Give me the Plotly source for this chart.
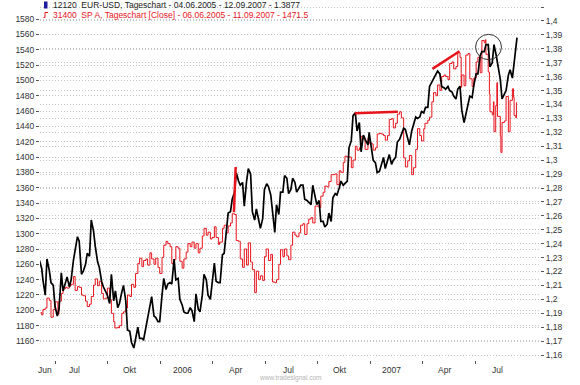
import plotly.graph_objects as go

# ---------------- data ----------------
eur_dates = [
    "2005-06-04","2005-06-08","2005-06-10","2005-06-14","2005-06-17","2005-06-21","2005-06-24","2005-06-28",
    "2005-07-01","2005-07-05","2005-07-08","2005-07-12","2005-07-15","2005-07-19","2005-07-22","2005-07-26","2005-07-29",
    "2005-08-02","2005-08-05","2005-08-09","2005-08-12","2005-08-16","2005-08-19","2005-08-23","2005-08-26","2005-08-30",
    "2005-09-02","2005-09-06","2005-09-09","2005-09-13","2005-09-16","2005-09-20","2005-09-23","2005-09-27","2005-09-30",
    "2005-10-04","2005-10-07","2005-10-11","2005-10-14","2005-10-18","2005-10-21","2005-10-25","2005-10-28",
    "2005-11-01","2005-11-04","2005-11-08","2005-11-11","2005-11-15","2005-11-18","2005-11-22","2005-11-25","2005-11-29",
    "2005-12-02","2005-12-06","2005-12-09","2005-12-13","2005-12-16","2005-12-20","2005-12-23","2005-12-27","2005-12-30",
    "2006-01-03","2006-01-06","2006-01-10","2006-01-13","2006-01-17","2006-01-20","2006-01-24","2006-01-27","2006-01-31",
    "2006-02-03","2006-02-07","2006-02-10","2006-02-14","2006-02-17","2006-02-21","2006-02-24","2006-02-28",
    "2006-03-03","2006-03-07","2006-03-10","2006-03-14","2006-03-17","2006-03-21","2006-03-24","2006-03-28","2006-03-31",
    "2006-04-04","2006-04-07","2006-04-11","2006-04-14","2006-04-18","2006-04-21","2006-04-25","2006-04-28",
    "2006-05-02","2006-05-05","2006-05-09","2006-05-12","2006-05-16","2006-05-19","2006-05-23","2006-05-26","2006-05-30",
    "2006-06-02","2006-06-06","2006-06-09","2006-06-13","2006-06-16","2006-06-20","2006-06-23","2006-06-27","2006-06-30",
    "2006-07-04","2006-07-07","2006-07-11","2006-07-14","2006-07-18","2006-07-21","2006-07-25","2006-07-28",
    "2006-08-01","2006-08-04","2006-08-08","2006-08-11","2006-08-15","2006-08-18","2006-08-22","2006-08-25","2006-08-29",
    "2006-09-01","2006-09-05","2006-09-08","2006-09-12","2006-09-15","2006-09-19","2006-09-22","2006-09-26","2006-09-29",
    "2006-10-03","2006-10-06","2006-10-10","2006-10-13","2006-10-17","2006-10-20","2006-10-24","2006-10-27","2006-10-31",
    "2006-11-03","2006-11-07","2006-11-10","2006-11-14","2006-11-17","2006-11-21","2006-11-24","2006-11-28",
    "2006-12-01","2006-12-05","2006-12-08","2006-12-12","2006-12-15","2006-12-19","2006-12-22","2006-12-27","2006-12-29",
    "2007-01-03","2007-01-05","2007-01-09","2007-01-12","2007-01-16","2007-01-19","2007-01-23","2007-01-26","2007-01-30",
    "2007-02-02","2007-02-06","2007-02-09","2007-02-13","2007-02-16","2007-02-20","2007-02-23","2007-02-27",
    "2007-03-02","2007-03-06","2007-03-09","2007-03-13","2007-03-16","2007-03-20","2007-03-23","2007-03-27","2007-03-30",
    "2007-04-03","2007-04-06","2007-04-10","2007-04-13","2007-04-17","2007-04-20","2007-04-24","2007-04-27",
    "2007-05-01","2007-05-04","2007-05-08","2007-05-11","2007-05-15","2007-05-18","2007-05-22","2007-05-25","2007-05-29",
    "2007-06-01","2007-06-05","2007-06-08","2007-06-12","2007-06-15","2007-06-19","2007-06-22","2007-06-26","2007-06-29",
    "2007-07-03","2007-07-06","2007-07-10","2007-07-13","2007-07-17","2007-07-20","2007-07-24","2007-07-27","2007-07-31",
    "2007-08-03","2007-08-07","2007-08-10","2007-08-14","2007-08-17","2007-08-21","2007-08-24","2007-08-28","2007-08-31",
    "2007-09-04","2007-09-07","2007-09-10","2007-09-12",
]
eur_close = [
    1.228,1.222,1.214,1.203,1.229,1.221,1.212,1.210,
    1.195,1.188,1.193,1.219,1.206,1.211,1.216,1.209,1.214,
    1.228,1.236,1.245,1.242,1.218,1.220,1.225,1.233,1.231,
    1.257,1.249,1.238,1.227,1.223,1.213,1.209,1.206,1.203,
    1.197,1.218,1.199,1.206,1.194,1.197,1.205,1.210,
    1.199,1.178,1.177,1.169,1.165,1.172,1.180,1.172,1.172,
    1.171,1.180,1.187,1.197,1.202,1.188,1.187,1.184,1.184,
    1.203,1.215,1.207,1.211,1.212,1.211,1.229,1.214,1.215,
    1.200,1.196,1.191,1.190,1.190,1.194,1.192,1.184,
    1.204,1.193,1.191,1.203,1.218,1.214,1.203,1.200,1.212,
    1.226,1.213,1.212,1.212,1.232,1.233,1.247,1.262,
    1.263,1.272,1.277,1.291,1.285,1.282,1.284,1.267,1.285,
    1.294,1.290,1.263,1.257,1.265,1.257,1.251,1.258,1.279,
    1.283,1.281,1.275,1.264,1.248,1.268,1.261,1.277,
    1.277,1.289,1.287,1.276,1.279,1.287,1.284,1.277,1.280,
    1.282,1.282,1.272,1.271,1.270,1.268,1.282,1.274,1.268,
    1.271,1.256,1.256,1.252,1.254,1.262,1.256,1.273,1.276,
    1.275,1.280,1.285,1.282,1.283,1.285,1.309,1.314,
    1.332,1.334,1.321,1.327,1.306,1.318,1.315,1.311,1.320,
    1.307,1.300,1.298,1.291,1.292,1.296,1.302,1.294,1.299,
    1.304,1.297,1.300,1.302,1.313,1.315,1.319,1.323,
    1.322,1.316,1.311,1.321,1.326,1.331,1.330,1.331,1.335,
    1.334,1.338,1.338,1.353,1.356,1.358,1.362,1.364,
    1.362,1.353,1.352,1.351,1.353,1.350,1.349,1.346,1.344,
    1.351,1.353,1.336,1.327,1.333,1.341,1.346,1.345,1.354,
    1.362,1.362,1.375,1.378,1.378,1.383,1.383,1.367,1.370,
    1.383,1.375,1.368,1.358,1.344,1.347,1.350,1.361,1.365,
    1.359,1.371,1.380,1.388,
]

spx_dates = [
    "2005-06-06","2005-06-08","2005-06-10","2005-06-14","2005-06-17","2005-06-21","2005-06-24","2005-06-28",
    "2005-07-01","2005-07-06","2005-07-08","2005-07-12","2005-07-15","2005-07-19","2005-07-22","2005-07-26","2005-07-29",
    "2005-08-02","2005-08-05","2005-08-09","2005-08-12","2005-08-16","2005-08-19","2005-08-23","2005-08-26","2005-08-30",
    "2005-09-02","2005-09-06","2005-09-09","2005-09-13","2005-09-16","2005-09-20","2005-09-23","2005-09-27","2005-09-30",
    "2005-10-04","2005-10-07","2005-10-11","2005-10-13","2005-10-18","2005-10-20","2005-10-21","2005-10-25","2005-10-28",
    "2005-11-01","2005-11-04","2005-11-08","2005-11-11","2005-11-15","2005-11-18","2005-11-22","2005-11-25","2005-11-29",
    "2005-12-02","2005-12-06","2005-12-09","2005-12-13","2005-12-16","2005-12-20","2005-12-23","2005-12-27","2005-12-30",
    "2006-01-03","2006-01-06","2006-01-10","2006-01-13","2006-01-17","2006-01-20","2006-01-24","2006-01-27","2006-01-31",
    "2006-02-03","2006-02-07","2006-02-10","2006-02-14","2006-02-17","2006-02-21","2006-02-24","2006-02-28",
    "2006-03-03","2006-03-07","2006-03-10","2006-03-14","2006-03-17","2006-03-21","2006-03-24","2006-03-28","2006-03-31",
    "2006-04-04","2006-04-07","2006-04-11","2006-04-13","2006-04-18","2006-04-21","2006-04-25","2006-04-28",
    "2006-05-02","2006-05-05","2006-05-09","2006-05-12","2006-05-16","2006-05-19","2006-05-23","2006-05-26","2006-05-30",
    "2006-06-02","2006-06-06","2006-06-09","2006-06-13","2006-06-16","2006-06-20","2006-06-23","2006-06-27","2006-06-30",
    "2006-07-03","2006-07-07","2006-07-11","2006-07-14","2006-07-18","2006-07-21","2006-07-25","2006-07-28",
    "2006-08-01","2006-08-04","2006-08-08","2006-08-11","2006-08-15","2006-08-18","2006-08-22","2006-08-25","2006-08-29",
    "2006-09-01","2006-09-05","2006-09-08","2006-09-12","2006-09-15","2006-09-19","2006-09-22","2006-09-26","2006-09-29",
    "2006-10-03","2006-10-06","2006-10-10","2006-10-13","2006-10-17","2006-10-20","2006-10-24","2006-10-27","2006-10-31",
    "2006-11-03","2006-11-07","2006-11-10","2006-11-14","2006-11-17","2006-11-21","2006-11-24","2006-11-28",
    "2006-12-01","2006-12-05","2006-12-08","2006-12-12","2006-12-15","2006-12-19","2006-12-22","2006-12-27","2006-12-29",
    "2007-01-03","2007-01-05","2007-01-09","2007-01-12","2007-01-16","2007-01-19","2007-01-23","2007-01-26","2007-01-30",
    "2007-02-02","2007-02-06","2007-02-09","2007-02-13","2007-02-16","2007-02-20","2007-02-23","2007-02-27",
    "2007-03-02","2007-03-06","2007-03-09","2007-03-13","2007-03-16","2007-03-20","2007-03-23","2007-03-27","2007-03-30",
    "2007-04-03","2007-04-05","2007-04-10","2007-04-13","2007-04-17","2007-04-20","2007-04-24","2007-04-27",
    "2007-05-01","2007-05-04","2007-05-08","2007-05-11","2007-05-15","2007-05-18","2007-05-22","2007-05-25","2007-05-29",
    "2007-06-01","2007-06-05","2007-06-07","2007-06-08","2007-06-12","2007-06-15","2007-06-19","2007-06-22","2007-06-26","2007-06-29",
    "2007-07-03","2007-07-06","2007-07-10","2007-07-13","2007-07-17","2007-07-19","2007-07-20","2007-07-24","2007-07-26","2007-07-27","2007-07-31",
    "2007-08-02","2007-08-03","2007-08-06","2007-08-08","2007-08-09","2007-08-10","2007-08-14","2007-08-15","2007-08-17","2007-08-21","2007-08-24","2007-08-28","2007-08-31",
    "2007-09-04","2007-09-06","2007-09-07","2007-09-10","2007-09-11",
]
spx_close = [
    1197,1194,1201,1203,1216,1213,1191,1201,
    1211,1195,1212,1222,1228,1230,1229,1232,1234,
    1244,1226,1231,1230,1220,1219,1212,1205,1208,
    1218,1233,1241,1232,1238,1222,1215,1216,1229,
    1214,1196,1185,1177,1178,1177,1180,1196,1198,
    1203,1220,1218,1234,1230,1248,1261,1268,1257,
    1265,1267,1259,1275,1267,1260,1268,1256,1248,
    1269,1285,1290,1287,1283,1261,1266,1283,1281,
    1264,1255,1267,1276,1287,1283,1289,1281,
    1287,1275,1281,1297,1307,1298,1302,1293,1295,
    1309,1295,1286,1289,1307,1311,1301,1310,
    1314,1326,1325,1291,1290,1267,1256,1280,1259,
    1288,1263,1253,1223,1251,1240,1245,1239,1270,
    1280,1265,1273,1237,1236,1240,1260,1279,
    1270,1280,1271,1266,1285,1302,1298,1296,1301,
    1311,1313,1299,1313,1319,1321,1314,1336,1336,
    1334,1349,1354,1362,1361,1368,1377,1377,1378,
    1364,1382,1380,1393,1401,1400,1400,1386,
    1396,1414,1409,1412,1427,1425,1410,1425,1418,
    1417,1409,1412,1430,1431,1430,1428,1422,1428,
    1449,1450,1438,1444,1456,1459,1451,1399,
    1387,1395,1402,1377,1386,1410,1437,1428,1421,
    1437,1444,1448,1452,1472,1484,1480,1494,
    1487,1505,1507,1505,1501,1522,1524,1515,1518,
    1536,1530,1491,1507,1493,1533,1535,1502,1492,1503,
    1524,1530,1510,1552,1549,1553,1534,1511,1482,1459,1455,
    1472,1433,1467,1497,1453,1453,1427,1406,1445,1447,1479,1433,1474,
    1489,1478,1454,1451,1471.5,
]

spx_ticks = list(range(1160, 1581, 20))
eur_ticks = [round(1.16 + 0.01 * i, 2) for i in range(26)]
eur_ticktext = [format(v, "g").replace(".", ",") for v in eur_ticks[:-1]] + [""]

quarter_ticks = ["2005-07-01", "2005-10-01", "2006-01-01", "2006-04-01", "2006-07-01",
                 "2006-10-01", "2007-01-01", "2007-04-01", "2007-07-01"]
month_labels = ["Jun", "Jul", "Okt", "2006", "Apr", "Jul", "Okt", "2007", "Apr", "Jul"]
label_dates = ["2005-06-13", "2005-08-04", "2005-11-08", "2006-02-08", "2006-05-10",
               "2006-08-10", "2006-11-08", "2007-02-06", "2007-05-09", "2007-08-09"]

# hand-drawn annotations on the chart (date, S&P-scale value)
trend_lines = [
    (("2006-05-08", 1328), ("2006-05-11", 1387)),
    (("2006-12-04", 1457), ("2007-02-17", 1459)),
    (("2007-04-18", 1515), ("2007-06-04", 1538)),
]
circle_box = (("2007-07-02", 1527), ("2007-08-16", 1560))

legend_lines = [
    ("12120  EUR-USD, Tageschart - 04.06.2005 - 12.09.2007 - 1.3877", "#222222"),
    ("31400  SP A, Tageschart [Close] - 06.06.2005 - 11.09.2007 - 1471.5", "#e8141c"),
]

# ---------------- figure ----------------
W, H = 580, 385
ML, MR, MT, MB = 40, 40, 5, 25
PW, PH = W - ML - MR, H - MT - MB


def px(xp):
    return (xp - ML) / PW


def py(yp):
    return (H - MB - yp) / PH


RED = "#e8141c"
FONT = "Liberation Sans, Arial, sans-serif"

fig = go.Figure()
fig.add_trace(go.Scatter(x=eur_dates, y=eur_close, yaxis="y2", mode="lines",
                         line=dict(color="black", width=1.7), showlegend=False,
                         hoverinfo="skip"))
fig.add_trace(go.Scatter(x=spx_dates, y=spx_close, yaxis="y", mode="lines",
                         line=dict(color=RED, width=1, shape="hv"), showlegend=False,
                         hoverinfo="skip"))

shapes = []
for (x0, y0), (x1, y1) in trend_lines:
    shapes.append(dict(type="line", xref="x", yref="y", x0=x0, y0=y0, x1=x1, y1=y1,
                       line=dict(color=RED, width=2.5)))
(cx0, cy0), (cx1, cy1) = circle_box
shapes.append(dict(type="circle", xref="x", yref="y", x0=cx0, y0=cy0, x1=cx1, y1=cy1,
                   line=dict(color="#333333", width=1)))
# legend icons
shapes.append(dict(type="rect", xref="paper", yref="paper",
                   x0=px(44), x1=px(47.5), y0=py(8.5), y1=py(1.5),
                   fillcolor="#1c1c9a", line=dict(width=0)))
shapes.append(dict(type="path", xref="paper", yref="paper",
                   path=f"M {px(43.5)},{py(17.5)} L {px(45)},{py(17.5)} L {px(45)},{py(12.5)} L {px(48)},{py(12.5)}",
                   line=dict(color=RED, width=1)))

annotations = []
for i, (txt, col) in enumerate(legend_lines):
    annotations.append(dict(text=txt, xref="paper", yref="paper", x=px(51), y=py(5 + 10 * i),
                            xanchor="left", yanchor="middle", showarrow=False,
                            font=dict(family=FONT, size=8.5, color=col)))
for d, lab in zip(label_dates, month_labels):
    annotations.append(dict(text=lab, xref="x", yref="paper", x=d, y=py(369.5),
                            xanchor="center", yanchor="middle", showarrow=False,
                            font=dict(family=FONT, size=8.5, color="#333333")))
annotations.append(dict(text="www.tradesignal.com", xref="paper", yref="paper",
                        x=px(290), y=py(378), xanchor="center", yanchor="middle",
                        showarrow=False, borderpad=0,
                        font=dict(family=FONT, size=6.5, color="#b4b4b4")))

grid = dict(showgrid=True, gridcolor="#c4c4c4", gridwidth=1, griddash="1px,2px")
tick = dict(ticks="outside", ticklen=3, tickcolor="#555555", tickwidth=1,
            tickfont=dict(family=FONT, size=8.5, color="#333333"))

fig.update_layout(
    width=W, height=H,
    margin=dict(l=ML, r=MR, t=MT, b=MB),
    paper_bgcolor="white", plot_bgcolor="white",
    showlegend=False,
    hovermode=False,
    xaxis=dict(type="date", range=["2005-06-04 22:00", "2007-10-21 23:30"],
               tickvals=quarter_ticks, showticklabels=False, ticks="outside",
               ticklen=3, tickcolor="#555555", showgrid=False, zeroline=False,
               showline=False, automargin=False),
    yaxis=dict(range=[1135.2, 1598.3], tickvals=spx_ticks, zeroline=False,
               showline=False, automargin=False, **grid, **tick),
    yaxis2=dict(range=[1.15641, 1.41149], tickvals=eur_ticks, ticktext=eur_ticktext,
                overlaying="y", side="right", zeroline=False, showline=False,
                automargin=False, **grid, **tick),
    shapes=shapes,
    annotations=annotations,
)

fig.write_html("out.html",
               config={"displayModeBar": False, "staticPlot": True},
               post_script="document.body.style.margin='0';document.body.style.overflow='hidden';")
